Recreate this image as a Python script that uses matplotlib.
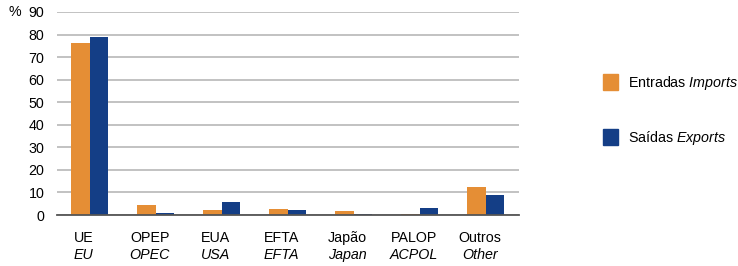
import numpy as np
import matplotlib.pyplot as plt
from matplotlib.patches import Patch

# * ----- Data ----------------------------------------------------------------
cats_pt = ['UE', 'OPEP', 'EUA', 'EFTA', 'Japão', 'PALOP', 'Outros']
cats_en = ['EU', 'OPEC', 'USA', 'EFTA', 'Japan', 'ACPOL', 'Other']
imports = [76.4, 4.6, 2.3, 2.7, 1.7, 0.4, 12.5]
exports = [79.0, 1.0, 5.9, 2.2, 0.5, 3.0, 9.0]
yticks = [0, 10, 20, 30, 40, 50, 60, 70, 80, 90]

ORANGE = '#E58E35'
BLUE = '#143E86'
FS = 10.3

plt.rcParams['font.family'] = ['Liberation Sans', 'DejaVu Sans']
plt.rcParams['mathtext.fontset'] = 'custom'
plt.rcParams['mathtext.it'] = 'Liberation Sans:italic'
plt.rcParams['mathtext.rm'] = 'Liberation Sans'

fig = plt.figure(figsize=(7.38, 2.66), dpi=100)
ax = fig.add_axes([0.0772, 0.1917, 0.626, 0.7633])

x = np.arange(len(cats_pt))
w = 0.28
ax.bar(x - w / 2, imports, w, color=ORANGE, zorder=3)
ax.bar(x + w / 2, exports, w, color=BLUE, zorder=3)

ax.set_xlim(-0.5, len(cats_pt) - 0.5)
ax.set_ylim(0, 90)
ax.set_yticks(yticks)
ax.tick_params(axis='y', length=0, labelsize=FS, pad=9)
ax.tick_params(axis='x', length=0, labelbottom=False)
ax.yaxis.grid(True, color='#bdbdbd', linewidth=1.3, zorder=0)
ax.set_axisbelow(True)
for s in ('left', 'right', 'top'):
    ax.spines[s].set_visible(False)
ax.spines['bottom'].set_color('#555555')
ax.spines['bottom'].set_linewidth(1.3)
ax.spines['bottom'].set_zorder(4)

fig.text(0.012, 0.955, '%', fontsize=FS, va='center', ha='left')

# two-line category labels (Portuguese / English italic)
for i, (pt, en) in enumerate(zip(cats_pt, cats_en)):
    ax.annotate(pt, xy=(i, 0), xycoords=('data', 'axes fraction'),
                xytext=(-4.5, -16.5), textcoords='offset points',
                ha='center', va='center', fontsize=FS)
    ax.annotate(en, xy=(i, 0), xycoords=('data', 'axes fraction'),
                xytext=(-4.5, -28.5), textcoords='offset points',
                ha='center', va='center', fontsize=FS, style='italic')

handles = [Patch(color=ORANGE), Patch(color=BLUE)]
labels = ['Entradas $\\it{Imports}$', 'Saídas $\\it{Exports}$']
fig.legend(handles, labels, loc='upper left', bbox_to_anchor=(0.8, 0.77),
           frameon=False, fontsize=FS, labelspacing=2.55,
           handlelength=1.05, handleheight=1.3, handletextpad=0.7)

fig.savefig('out.png', dpi=100)
